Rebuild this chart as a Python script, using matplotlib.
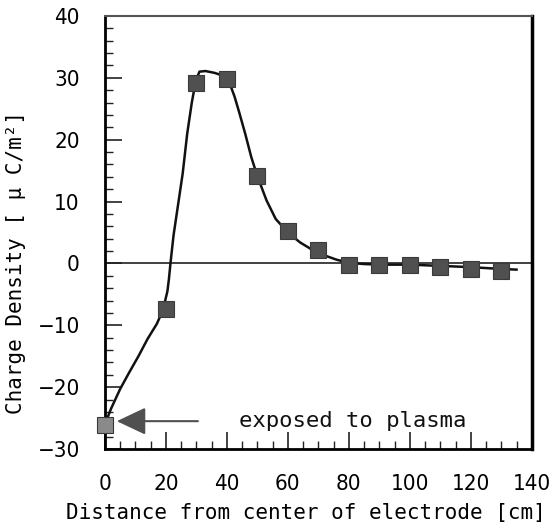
import matplotlib
matplotlib.use("Agg")
import matplotlib.pyplot as plt
from matplotlib.ticker import MultipleLocator

# measured points
x_pts = [0, 20, 30, 40, 50, 60, 70, 80, 90, 100, 110, 120, 130]
y_pts = [-26.2, -7.4, 29.1, 29.8, 14.1, 5.3, 2.2, -0.3, -0.3, -0.2, -0.6, -0.9, -1.2]

# hand-drawn smooth guide curve
curve_x = [0, 2, 5, 8, 11, 14, 17, 19, 20.5, 21, 21.5, 22.5, 24, 25.5, 27, 28.5,
           29.8, 31, 33, 36, 39, 41, 42.5, 44, 46, 48, 50, 53, 56, 60, 64, 68,
           72, 76, 80, 85, 90, 100, 110, 120, 130, 135]
curve_y = [-26, -23.5, -20.3, -17.6, -15, -12.2, -9.8, -7.6, -4.5, -2.5, 0, 4.5,
           9.5, 14.5, 21, 26, 29.5, 31, 31.1, 30.8, 30.3, 29, 27, 24.5, 21, 17.2,
           14.1, 10.2, 7.2, 5.0, 3.4, 2.2, 1.3, 0.6, 0.1, -0.1, -0.2, -0.2, -0.4,
           -0.6, -0.9, -1.0]

x_ticks = [0, 20, 40, 60, 80, 100, 120, 140]
y_ticks = [-30, -20, -10, 0, 10, 20, 30, 40]
annot_text = "exposed to plasma"
xlabel = "Distance from center of electrode [cm]"
ylabel = "Charge Density [ μ C/m²]"

fig = plt.figure(figsize=(5.58, 5.26), dpi=100)
ax = fig.add_axes([0.188, 0.1464, 0.765, 0.8232])

ax.axhline(0, color="#333333", lw=1.3, zorder=1)
ax.plot(curve_x, curve_y, color="#111111", lw=1.8, zorder=2)
colors = ["#8a8a8a"] + ["#505050"] * (len(x_pts) - 1)
for xv, yv, c in zip(x_pts, y_pts, colors):
    ax.plot([xv], [yv], marker="s", ms=11.5, mfc=c, mec="#3a3a3a", mew=0.8,
            linestyle="none", zorder=3, clip_on=False)

ax.annotate("", xy=(3.9, -25.5), xytext=(30.5, -25.5),
            arrowprops=dict(arrowstyle="-|>,head_length=1.8,head_width=0.85",
                            color="#505050", lw=1.5, shrinkA=0, shrinkB=0))
ax.text(44, -25.4, annot_text, fontsize=16, family="DejaVu Sans Mono",
        va="center", ha="left", color="#111111")

ax.set_xlim(0, 140)
ax.set_ylim(-30, 40)
ax.set_xticks(x_ticks)
ax.set_yticks(y_ticks)
ax.xaxis.set_minor_locator(MultipleLocator(5))
ax.yaxis.set_minor_locator(MultipleLocator(2))
ax.tick_params(which="major", direction="in", length=12, width=1.2,
               labelsize=16, color="#222222")
ax.tick_params(axis="x", which="major", pad=18)
ax.tick_params(axis="y", which="major", pad=18)
ax.tick_params(which="minor", direction="in", length=6, width=1.0, color="#222222")
for lab in ax.get_xticklabels() + ax.get_yticklabels():
    lab.set_family("DejaVu Sans")
    lab.set_stretch("condensed")

ax.spines["left"].set_linewidth(2)
ax.spines["bottom"].set_linewidth(2)
ax.spines["right"].set_linewidth(2.5)
ax.spines["top"].set_linewidth(1.5)
ax.spines["top"].set_color("#555555")

ax.set_xlabel(xlabel, fontsize=15, family="DejaVu Sans Mono")
ax.xaxis.set_label_coords(0.47, -0.125)
ax.set_ylabel(ylabel, fontsize=15, family="DejaVu Sans Mono")
ax.yaxis.set_label_coords(-0.185, 0.43)

fig.savefig("out.png", dpi=100)
